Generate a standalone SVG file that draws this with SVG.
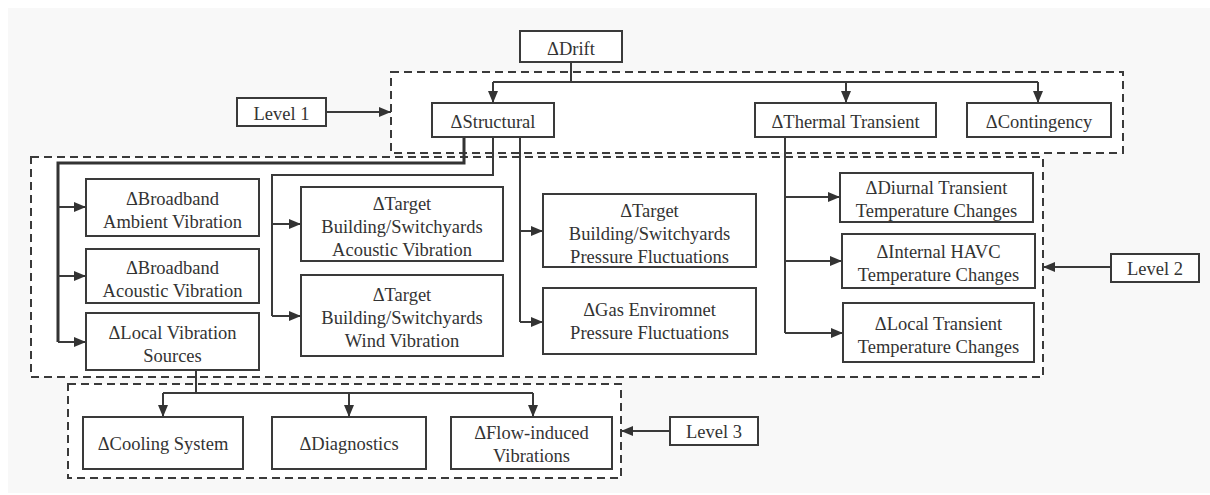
<svg xmlns="http://www.w3.org/2000/svg" width="1210" height="495" viewBox="0 0 1210 495">
<style>
.bg{fill:#f8f8f8}
.lvl{fill:#ffffff;stroke:#3a3a3a;stroke-width:2;stroke-dasharray:8 5}
.box{fill:#ffffff;stroke:#3a3a3a;stroke-width:2}
.t{font-family:'Liberation Serif','DejaVu Serif',serif;font-size:18.5px;fill:#333;text-anchor:middle}
.c{fill:none;stroke:#3a3a3a;stroke-width:2}
.ct{fill:none;stroke:#333;stroke-width:3}
</style>
<defs>
<marker id="ah" markerUnits="userSpaceOnUse" markerWidth="13" markerHeight="11" refX="12" refY="5.5" orient="auto">
<path d="M0,0.5 L12,5.5 L0,10.5 z" fill="#333"/>
</marker>
</defs>
<rect x="0" y="0" width="1210" height="495" fill="#ffffff"/>
<rect class="bg" x="8" y="8" width="1202" height="485"/>
<g id="level-regions">
<rect class="lvl" x="391" y="72" width="732" height="81"/>
<rect class="lvl" x="31" y="157" width="1012" height="220"/>
<rect class="lvl" x="68" y="384" width="553" height="94"/>
</g>
<g id="connectors">
<path class="c" d="M571,62 V82 M493,82 H1038"/>
<path class="c" d="M493,82 V103" marker-end="url(#ah)"/>
<path class="c" d="M846,82 V103" marker-end="url(#ah)"/>
<path class="c" d="M1038,82 V103" marker-end="url(#ah)"/>
<path class="c" d="M326,112 H391" marker-end="url(#ah)"/>
<path class="ct" d="M464,137 V163 H58 V342"/>
<path class="c" d="M58,207 H86" marker-end="url(#ah)"/>
<path class="c" d="M58,276 H86" marker-end="url(#ah)"/>
<path class="c" d="M58,342 H86" marker-end="url(#ah)"/>
<path class="c" d="M493,137 V175 H272 V316"/>
<path class="c" d="M272,224 H301" marker-end="url(#ah)"/>
<path class="c" d="M272,316 H301" marker-end="url(#ah)"/>
<path class="c" d="M520,137 V322"/>
<path class="c" d="M520,231 H543" marker-end="url(#ah)"/>
<path class="c" d="M520,322 H543" marker-end="url(#ah)"/>
<path class="c" d="M785,137 V333"/>
<path class="c" d="M785,197 H840" marker-end="url(#ah)"/>
<path class="c" d="M785,261 H842" marker-end="url(#ah)"/>
<path class="c" d="M785,333 H843" marker-end="url(#ah)"/>
<path class="c" d="M1111,267 H1043" marker-end="url(#ah)"/>
<path class="c" d="M196,370 V393 M163,393 H533"/>
<path class="c" d="M163,393 V417" marker-end="url(#ah)"/>
<path class="c" d="M349,393 V417" marker-end="url(#ah)"/>
<path class="c" d="M533,393 V417" marker-end="url(#ah)"/>
<path class="c" d="M670,431 H621" marker-end="url(#ah)"/>
</g>
<g id="drift"><rect class="box" x="520" y="31" width="102" height="31"/><text class="t" x="571" y="55">ΔDrift</text></g>
<g id="level1"><rect class="box" x="237" y="98" width="89" height="28"/><text class="t" x="281.5" y="120">Level 1</text></g>
<g id="structural"><rect class="box" x="432" y="103" width="122" height="34"/><text class="t" x="493" y="128">ΔStructural</text></g>
<g id="thermal"><rect class="box" x="755" y="103" width="181" height="34"/><text class="t" x="845.5" y="128">ΔThermal Transient</text></g>
<g id="contingency"><rect class="box" x="967" y="103" width="144" height="34"/><text class="t" x="1039" y="128">ΔContingency</text></g>
<g id="broadband-ambient"><rect class="box" x="86" y="179" width="173" height="57"/><text class="t" x="172.5" y="205">ΔBroadband</text><text class="t" x="172.5" y="228">Ambient Vibration</text></g>
<g id="broadband-acoustic"><rect class="box" x="86" y="249" width="173" height="54"/><text class="t" x="172.5" y="274">ΔBroadband</text><text class="t" x="172.5" y="297">Acoustic Vibration</text></g>
<g id="local-vibration"><rect class="box" x="86" y="313" width="173" height="57"/><text class="t" x="172.5" y="339">ΔLocal Vibration</text><text class="t" x="172.5" y="362">Sources</text></g>
<g id="target-acoustic"><rect class="box" x="301" y="187" width="202" height="74"/><text class="t" x="402" y="210">ΔTarget</text><text class="t" x="402" y="233">Building/Switchyards</text><text class="t" x="402" y="256">Acoustic Vibration</text></g>
<g id="target-wind"><rect class="box" x="301" y="275" width="202" height="81"/><text class="t" x="402" y="301">ΔTarget</text><text class="t" x="402" y="324">Building/Switchyards</text><text class="t" x="402" y="347">Wind Vibration</text></g>
<g id="target-pressure"><rect class="box" x="543" y="194" width="213" height="73"/><text class="t" x="649.5" y="217">ΔTarget</text><text class="t" x="649.5" y="240">Building/Switchyards</text><text class="t" x="649.5" y="263">Pressure Fluctuations</text></g>
<g id="gas"><rect class="box" x="543" y="288" width="213" height="66"/><text class="t" x="649.5" y="316">ΔGas Enviromnet</text><text class="t" x="649.5" y="339">Pressure Fluctuations</text></g>
<g id="diurnal"><rect class="box" x="840" y="173" width="193" height="49"/><text class="t" x="936.5" y="194">ΔDiurnal Transient</text><text class="t" x="936.5" y="217">Temperature Changes</text></g>
<g id="internal"><rect class="box" x="842" y="234" width="193" height="54"/><text class="t" x="938.5" y="258">ΔInternal HAVC</text><text class="t" x="938.5" y="281">Temperature Changes</text></g>
<g id="local-transient"><rect class="box" x="843" y="303" width="191" height="59"/><text class="t" x="938.5" y="330">ΔLocal Transient</text><text class="t" x="938.5" y="353">Temperature Changes</text></g>
<g id="level2"><rect class="box" x="1111" y="254" width="88" height="28"/><text class="t" x="1155" y="275">Level 2</text></g>
<g id="cooling"><rect class="box" x="83" y="417" width="160" height="52"/><text class="t" x="163" y="450">ΔCooling System</text></g>
<g id="diagnostics"><rect class="box" x="272" y="417" width="154" height="52"/><text class="t" x="349" y="450">ΔDiagnostics</text></g>
<g id="flow"><rect class="box" x="451" y="417" width="161" height="52"/><text class="t" x="531.5" y="439">ΔFlow-induced</text><text class="t" x="531.5" y="462">Vibrations</text></g>
<g id="level3"><rect class="box" x="670" y="417" width="88" height="28"/><text class="t" x="714" y="438">Level 3</text></g>
</svg>
